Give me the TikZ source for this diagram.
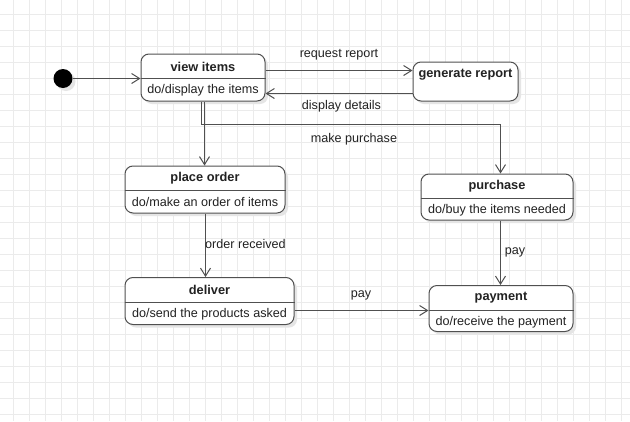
\documentclass[tikz,border=0pt]{standalone}
\usepackage{fontspec}
\setmainfont{Liberation Sans}
\usetikzlibrary{arrows.meta,shadows,calc}
\definecolor{gridc}{HTML}{EBEBEB}
\definecolor{linec}{HTML}{505050}
\definecolor{textc}{HTML}{222222}
\tikzset{
  stbox/.style={draw=linec, line width=1pt, rounded corners=8pt, fill=white,
    inner sep=0pt, drop shadow={shadow xshift=3pt, shadow yshift=-3pt, fill=black!10, opacity=1}},
  ttl/.style={font=\fontsize{12.8}{15}\selectfont\bfseries, text=textc, inner sep=0pt},
  body/.style={font=\fontsize{12.6}{15}\selectfont, text=textc, inner sep=0pt},
  lbl/.style={font=\fontsize{12.6}{15}\selectfont, text=textc, inner sep=0pt},
  conn/.style={draw=linec, line width=1pt, -{Straight Barb[length=8pt,width=10pt,line width=1pt]}},
  divl/.style={draw=linec, line width=1pt},
}
\begin{document}
\begin{tikzpicture}[x=1pt,y=-1pt]
\useasboundingbox (0,0) rectangle (630,421);
\fill[white] (0,0) rectangle (630,421);
% grid
\foreach \gx in {13.5,29.5,...,630} \draw[gridc, line width=0.8pt] (\gx,0) -- (\gx,421);
\foreach \gy in {14.5,30.5,...,421} \draw[gridc, line width=0.8pt] (0,\gy) -- (630,\gy);

% initial state
\node[circle, fill=black, minimum size=19pt, inner sep=0pt,
  drop shadow={shadow xshift=3pt, shadow yshift=-3pt, fill=black!10, opacity=1}] (init) at (63,78.5) {};

% boxes
\node[stbox, minimum width=124pt, minimum height=47pt] (vi) at (203,77.5) {};
\node[stbox, minimum width=105pt, minimum height=39pt] (gr) at (465.5,81.5) {};
\node[stbox, minimum width=160pt, minimum height=47pt] (po) at (205,189.5) {};
\node[stbox, minimum width=169pt, minimum height=47pt] (de) at (209.5,301) {};
\node[stbox, minimum width=152pt, minimum height=46pt] (pu) at (497,197) {};
\node[stbox, minimum width=144pt, minimum height=46pt] (pm) at (501,308.5) {};

% dividers
\draw[divl] (vi.west |- 0,78.5) -- (vi.east |- 0,78.5);
\draw[divl] (po.west |- 0,190.5) -- (po.east |- 0,190.5);
\draw[divl] (de.west |- 0,302.5) -- (de.east |- 0,302.5);
\draw[divl] (pu.west |- 0,198.5) -- (pu.east |- 0,198.5);
\draw[divl] (pm.west |- 0,310.5) -- (pm.east |- 0,310.5);

% texts
\node[ttl] (vit) at (203,66.5) {view items};
\node[body] (vib) at (203,90) {do/display the items};
\node[ttl] (grt) at (465.5,74.5) {generate report};
\node[ttl] (pot) at (205,178.5) {place order};
\node[body] (pob) at (205,202) {do/make an order of items};
\node[ttl] (det) at (209.5,290) {deliver};
\node[body] (deb) at (209.5,314) {do/send the products asked};
\node[ttl] (put) at (497,186.5) {purchase};
\node[body] (pub) at (497,210) {do/buy the items needed};
\node[ttl] (pmt) at (501,298) {payment};
\node[body] (pmb) at (501,322) {do/receive the payment};

% connectors
\draw[conn] (init) -- (vi.west |- init);
\draw[conn] ([yshift=7pt]vi.east) -- ([yshift=7pt]vi.east -| gr.west);
\draw[conn] ([yshift=-12pt]gr.west) -- ([yshift=-12pt]gr.west -| vi.east);
\draw[conn] ([xshift=1.5pt]vi.south) -- ([xshift=1.5pt]vi.south |- po.north);
\coordinate (mp) at (500.5,124.5);
\draw[conn] ([xshift=-1.5pt]vi.south) |- (mp) -- (mp |- pu.north);
\draw[conn] ([xshift=0.5pt]po.south) -- ([xshift=0.5pt]po.south |- de.north);
\draw[conn] ([yshift=-9.5pt]de.east) -- ([yshift=-9.5pt]de.east -| pm.west);
\draw[conn] ([xshift=3.5pt]pu.south) -- ([xshift=3.5pt]pu.south |- pm.north);

% labels
\node[lbl] (l1) at (339,55) {request report};
\node[lbl] (l2) at (341.5,106) {display details};
\node[lbl] (l3) at (354,139) {make purchase};
\node[lbl, anchor=west] (l4) at (205,244) {order received};
\node[lbl] (l5) at (361,295) {pay};
\node[lbl] (l6) at (515,252) {pay};
\end{tikzpicture}
\end{document}
